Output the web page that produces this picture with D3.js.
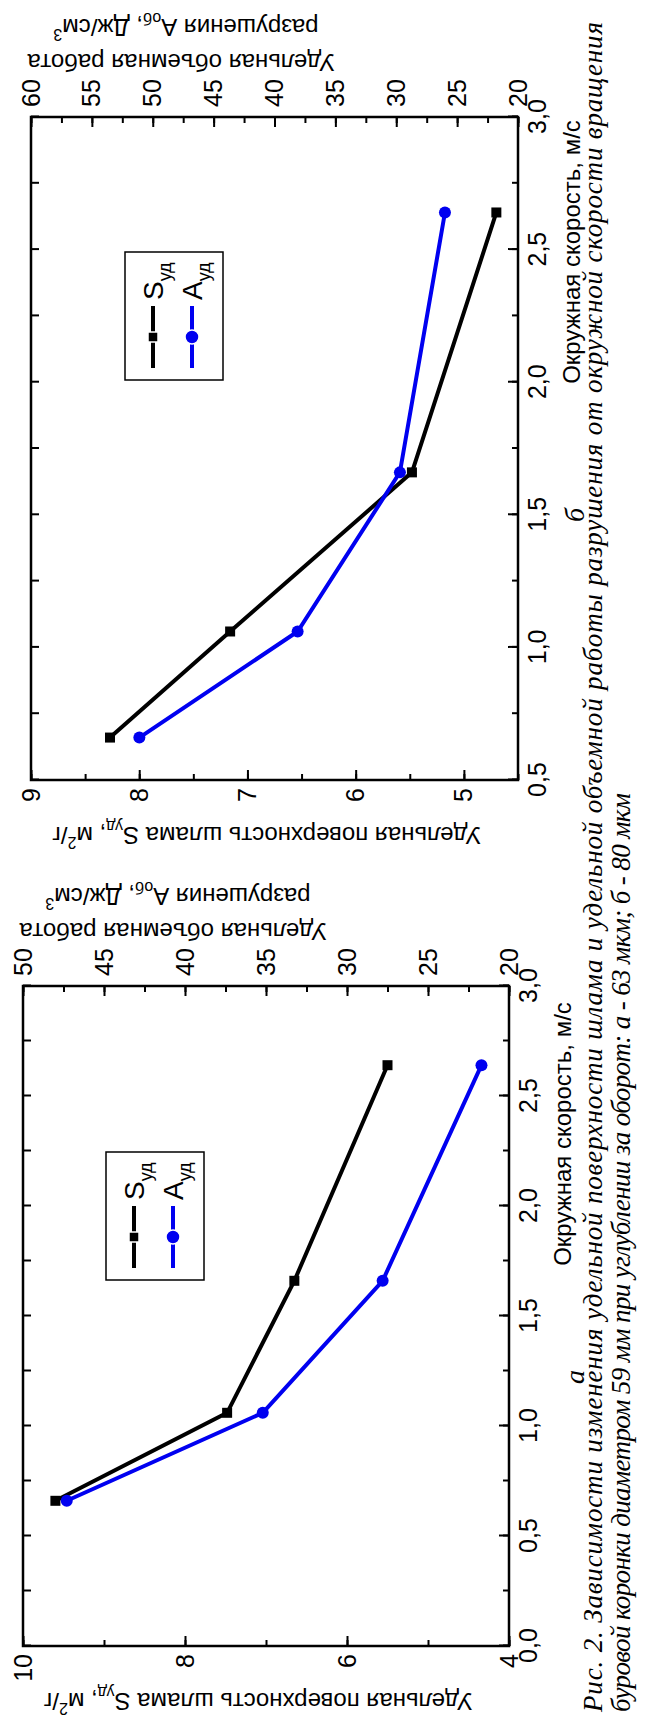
<!DOCTYPE html>
<html>
<head>
<meta charset="utf-8">
<script src="https://cdn.jsdelivr.net/npm/d3@7"></script>
<style>
  body { margin: 0; background: #fff; }
  svg text { fill: #000; }
</style>
</head>
<body>
<div id="fig"></div>
<script>
// data (speed in m/s)
var speedA = [0.66, 1.06, 1.66, 2.64];
var surfaceA = [9.6, 7.48, 6.65, 5.5];
var workA = [47.3, 35.2, 27.8, 21.7];

var speedB = [0.66, 1.06, 1.66, 2.64];
var surfaceB = [8.27, 7.16, 5.48, 4.70];
var workB = [51.1, 38.1, 29.7, 26.0];

// tick labels
var xTicksA = [0, 0.5, 1, 1.5, 2, 2.5, 3];
var sTicksA = [4, 6, 8, 10];
var aTicksA = [20, 25, 30, 35, 40, 45, 50];
var xTicksB = [0.5, 1, 1.5, 2, 2.5, 3];
var sTicksB = [5, 6, 7, 8, 9];
var aTicksB = [20, 25, 30, 35, 40, 45, 50, 55, 60];

var legendNames = ["S", "A"];
var captionLine1 = "Рис. 2. Зависимости изменения удельной поверхности  шлама и удельной объемной работы разрушения от окружной скорости вращения";
var captionLine2 = "буровой коронки диаметром 59 мм при углублении за оборот: а - 63 мкм; б - 80 мкм";

// the page is drawn landscape and turned a quarter turn counter-clockwise
var svg = d3.select("#fig").append("svg")
    .attr("width", 653)
    .attr("height", 1726)
    .style("font-family", "'Liberation Sans', Arial, sans-serif");

var page = svg.append("g")
    .attr("transform", "translate(0,1726) rotate(-90)");

var blue = "#0000f0";
var serif = "'Liberation Serif', 'Times New Roman', serif";
var comma = function(d) { return d3.format(".1f")(d).replace(".", ","); };

var panels = [
  { speed: speedA, surface: surfaceA, work: workA,
    x0: 80, x1: 740, y0: 23, y1: 509,
    xDom: [0, 3], sDom: [4, 10], aDom: [20, 50],
    xTicks: xTicksA, sTicks: sTicksA, aTicks: aTicksA,
    xMinor: 0.25, sMinor: 1, aMinor: 2.5,
    legX: 446, legY: 106, letter: "а", letterX: 349, xTitleX: 592 },
  { speed: speedB, surface: surfaceB, work: workB,
    x0: 946, x1: 1609, y0: 31, y1: 518,
    xDom: [0.5, 3], sDom: [4.5, 9], aDom: [20, 60],
    xTicks: xTicksB, sTicks: sTicksB, aTicks: aTicksB,
    xMinor: 0.25, sMinor: 0.5, aMinor: 2.5,
    legX: 1346, legY: 125, letter: "б", letterX: 1211, xTitleX: 1474 }
];

function styleAxis(g, size) {
  g.select(".domain").remove();
  g.selectAll(".tick line").attr("stroke", "#000").attr("stroke-width", size);
  g.attr("font-family", null);
  g.selectAll("text").style("font-size", "25px").attr("fill", "#000");
}

function minors(dom, step) {
  return d3.range(dom[0], dom[1] + 1e-9, step);
}

panels.forEach(function(p) {
  var x = d3.scaleLinear().domain(p.xDom).range([p.x0, p.x1]);
  var yS = d3.scaleLinear().domain(p.sDom).range([p.y1, p.y0]);
  var yA = d3.scaleLinear().domain(p.aDom).range([p.y1, p.y0]);

  var g = page.append("g");

  // minor ticks
  g.append("g").attr("transform", `translate(0,${p.y1})`)
    .call(d3.axisBottom(x).tickValues(minors(p.xDom, p.xMinor)).tickSize(-6).tickFormat(""))
    .call(styleAxis, 2);
  g.append("g").attr("transform", `translate(0,${p.y0})`)
    .call(d3.axisTop(x).tickValues(minors(p.xDom, p.xMinor)).tickSize(-8).tickFormat(""))
    .call(styleAxis, 2);
  g.append("g").attr("transform", `translate(${p.x0},0)`)
    .call(d3.axisLeft(yS).tickValues(minors(p.sDom, p.sMinor)).tickSize(-6).tickFormat(""))
    .call(styleAxis, 2);
  g.append("g").attr("transform", `translate(${p.x1},0)`)
    .call(d3.axisRight(yA).tickValues(minors(p.aDom, p.aMinor)).tickSize(-6).tickFormat(""))
    .call(styleAxis, 2);

  // labelled ticks
  g.append("g").attr("transform", `translate(0,${p.y1})`)
    .call(d3.axisBottom(x).tickValues(p.xTicks).tickSize(-10).tickPadding(10).tickFormat(comma))
    .call(styleAxis, 2);
  g.append("g").attr("transform", `translate(${p.x0},0)`)
    .call(d3.axisLeft(yS).tickValues(p.sTicks).tickSize(-10).tickPadding(8).tickFormat(d3.format("d")))
    .call(styleAxis, 2);
  g.append("g").attr("transform", `translate(${p.x1},0)`)
    .call(d3.axisRight(yA).tickValues(p.aTicks).tickSize(-10).tickPadding(10).tickFormat(d3.format("d")))
    .call(styleAxis, 2);

  // frame
  g.append("rect")
    .attr("x", p.x0).attr("y", p.y0)
    .attr("width", p.x1 - p.x0).attr("height", p.y1 - p.y0)
    .attr("fill", "none").attr("stroke", "#000").attr("stroke-width", 2.5);

  // series
  var lineS = d3.line().x(function(d, i) { return x(p.speed[i]); }).y(function(d) { return yS(d); });
  var lineA = d3.line().x(function(d, i) { return x(p.speed[i]); }).y(function(d) { return yA(d); });

  g.append("path").attr("d", lineS(p.surface))
    .attr("fill", "none").attr("stroke", "#000").attr("stroke-width", 4);
  g.append("path").attr("d", lineA(p.work))
    .attr("fill", "none").attr("stroke", blue).attr("stroke-width", 4);

  g.selectAll(".sq").data(p.surface).enter().append("rect")
    .attr("x", function(d, i) { return x(p.speed[i]) - 5; })
    .attr("y", function(d) { return yS(d) - 5; })
    .attr("width", 10).attr("height", 10).attr("fill", "#000");
  g.selectAll(".dot").data(p.work).enter().append("circle")
    .attr("cx", function(d, i) { return x(p.speed[i]); })
    .attr("cy", function(d) { return yA(d); })
    .attr("r", 6).attr("fill", blue);

  // axis titles
  g.append("text")
    .attr("x", p.xTitleX).attr("y", p.y1 + 62)
    .attr("text-anchor", "middle").style("font-size", "24px")
    .text("Окружная скорость, м/с");

  var lt = g.append("text")
    .attr("transform", `translate(${p.x0 - 47},${(p.y0 + p.y1) / 2 - 8}) rotate(-90)`)
    .attr("text-anchor", "middle").style("font-size", "24px");
  lt.append("tspan").text("Удельная поверхность шлама S");
  lt.append("tspan").attr("dy", 6).style("font-size", "16px").text("уд");
  lt.append("tspan").attr("dy", -6).text(", м");
  lt.append("tspan").attr("dy", -10).style("font-size", "16px").text("2");
  lt.append("tspan").attr("dy", 10).text("/г");

  g.append("text")
    .attr("transform", `translate(${p.x1 + 63},${p.y0 + 150}) rotate(-90)`)
    .attr("text-anchor", "middle").style("font-size", "24px")
    .text("Удельная объемная работа");
  var rt = g.append("text")
    .attr("transform", `translate(${p.x1 + 98},${p.y0 + 155}) rotate(-90)`)
    .attr("text-anchor", "middle").style("font-size", "24px");
  rt.append("tspan").text("разрушения А");
  rt.append("tspan").attr("dy", 6).style("font-size", "16px").text("об");
  rt.append("tspan").attr("dy", -6).text(", Дж/см");
  rt.append("tspan").attr("dy", -10).style("font-size", "16px").text("3");

  // legend
  var leg = g.append("g").attr("transform", `translate(${p.legX},${p.legY})`);
  leg.append("rect").attr("width", 128).attr("height", 98)
    .attr("fill", "#fff").attr("stroke", "#000").attr("stroke-width", 1.5);
  legendNames.forEach(function(name, i) {
    var cy = 28 + i * 39;
    var col = i === 0 ? "#000" : blue;
    leg.append("line").attr("x1", 12).attr("x2", 74).attr("y1", cy).attr("y2", cy)
      .attr("stroke", col).attr("stroke-width", 4);
    if (i === 0) {
      leg.append("rect").attr("x", 38).attr("y", cy - 5).attr("width", 10).attr("height", 10)
        .attr("fill", "#000").attr("stroke", "#fff").attr("stroke-width", 1.5);
    } else {
      leg.append("circle").attr("cx", 43).attr("cy", cy).attr("r", 7).attr("fill", blue)
        .attr("stroke", "#fff").attr("stroke-width", 1.5);
    }
    var t = leg.append("text").attr("x", 80).attr("y", cy + 10).style("font-size", "28px");
    t.append("tspan").text(name);
    t.append("tspan").attr("dy", 8).style("font-size", "18px").text("уд");
  });

  // panel letter
  g.append("text")
    .attr("x", p.letterX).attr("y", 584)
    .attr("text-anchor", "middle")
    .style("font-size", "28px").style("font-family", serif).style("font-style", "italic")
    .text(p.letter);
});

// caption
page.append("text")
  .attr("x", 14).attr("y", 602)
  .style("font-size", "27px").style("font-family", serif).style("font-style", "italic")
  .attr("textLength", 1690).attr("lengthAdjust", "spacing")
  .text(captionLine1);
page.append("text")
  .attr("x", 14).attr("y", 630)
  .style("font-size", "27px").style("font-family", serif).style("font-style", "italic")
  .attr("textLength", 919).attr("lengthAdjust", "spacing")
  .text(captionLine2);
</script>
</body>
</html>
